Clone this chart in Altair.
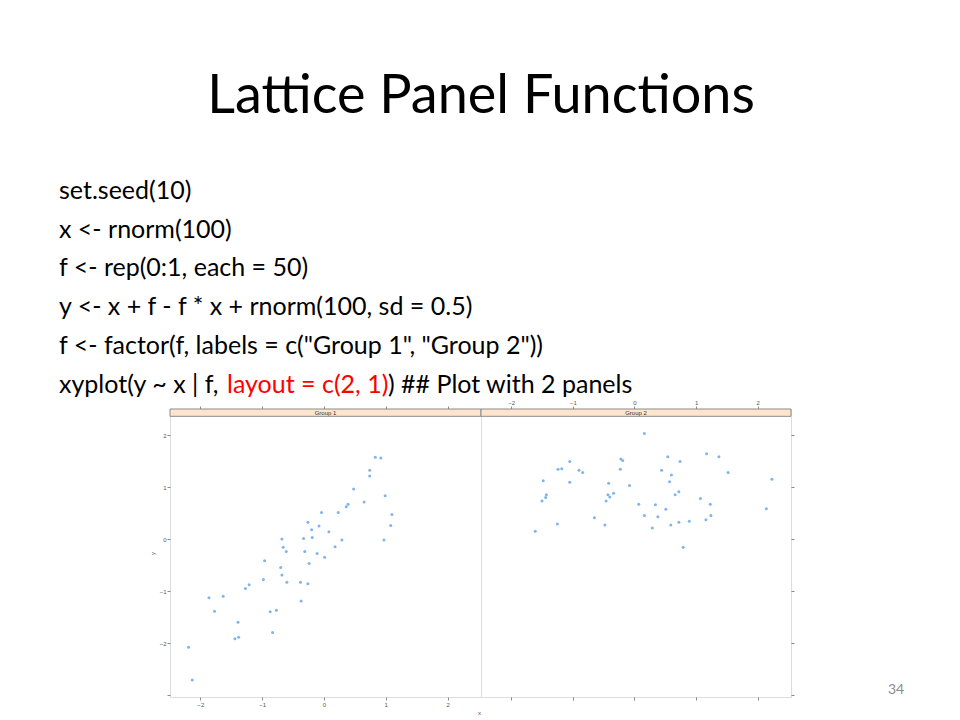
import altair as alt
import pandas as pd

# ---------------- data ----------------
title_text = "Lattice Panel Functions"
code_lines = [
    "set.seed(10)",
    "x <- rnorm(100)",
    "f <- rep(0:1, each = 50)",
    "y <- x + f - f * x + rnorm(100, sd = 0.5)",
    'f <- factor(f, labels = c("Group 1", "Group 2"))',
]
last_line_parts = ["xyplot(y ~ x | f,", "layout = c(2, 1)", ") ## Plot with 2 panels"]
page_number = "34"
panel_labels = ["Group 1", "Group 2"]
x_ticks = [-2, -1, 0, 1, 2]
y_ticks = [-3, -2, -1, 0, 1, 2]

g1_x = [0.83, 0.92, 0.74, 0.74, 0.48, 0.99, 0.65, 0.39, 0.36, -0.04,
        0.23, 1.10, -0.26, 1.08, -0.08, -0.20, 0.08, -0.19, -0.33, -0.68,
        0.29, 0.97, -0.66, 0.18, -0.61, -0.31, -0.11, 0.01, -0.96, -0.70,
        -0.24, -0.68, -0.98, -0.60, -0.38, -0.26, -1.21, -1.27, -1.63, -1.86,
        -0.37, -1.77, -0.87, -0.77, -1.39, -0.83, -1.38, -1.44, -2.19, -2.13]
g1_y = [1.57, 1.56, 1.32, 1.21, 0.96, 0.83, 0.71, 0.67, 0.62, 0.51,
        0.51, 0.47, 0.32, 0.26, 0.25, 0.18, 0.14, 0.03, 0.01, 0.00,
        -0.02, -0.02, -0.16, -0.15, -0.24, -0.24, -0.28, -0.35, -0.42, -0.55,
        -0.47, -0.69, -0.78, -0.83, -0.83, -0.86, -0.88, -0.95, -1.10, -1.13,
        -1.19, -1.39, -1.40, -1.37, -1.60, -1.80, -1.89, -1.92, -2.08, -2.71]

g2_x = [0.16, 1.17, 0.54, 1.37, -0.22, -0.19, -1.05, 0.74, -1.24, -1.18,
        -0.23, -0.90, -0.84, 0.44, 1.52, 0.60, 2.23, -1.48, -1.05, -0.42,
        0.57, -0.08, 0.72, -0.34, 0.66, -1.43, -0.43, -0.40, -1.44, 1.07,
        -1.50, -0.46, 0.07, 0.34, 1.23, 2.14, 0.51, 0.16, 0.38, 1.24,
        -0.65, 1.16, 0.89, 0.72, -1.25, -0.48, 0.59, 0.29, -1.61, 0.79]
g2_y = [2.03, 1.64, 1.58, 1.58, 1.54, 1.51, 1.49, 1.49, 1.34, 1.35,
        1.34, 1.32, 1.28, 1.32, 1.28, 1.23, 1.15, 1.12, 1.09, 1.07,
        1.10, 1.03, 0.91, 0.88, 0.85, 0.85, 0.85, 0.81, 0.80, 0.78,
        0.73, 0.73, 0.67, 0.66, 0.67, 0.58, 0.57, 0.45, 0.43, 0.45,
        0.41, 0.37, 0.34, 0.32, 0.29, 0.27, 0.27, 0.21, 0.15, -0.16]

# ---------------- styling ----------------
W_LEFT = 311
W_RIGHT = 310
H = 288
STRIP_H = 7.3
GRAY = "#8a8a8a"
PT = "#80b4ea"
TXT_FONT = "Lato"
AX_FONT = "Liberation Sans"

xs = alt.Scale(domain=[-2.49, 2.54], nice=False, zero=False)
ys = alt.Scale(domain=[-3.038, 2.5], nice=False, zero=False)


def ax(orient, labels=True, title=None, **kw):
    args = dict(orient=orient, values=x_ticks if orient in ("top", "bottom") else y_ticks,
                tickSize=3, tickColor=GRAY, domain=False, grid=False,
                labels=labels, labelFontSize=6, labelColor="#555", labelPadding=1,
                labelFont=AX_FONT, labelFlush=False, labelAngle=0)
    if title is not None:
        args.update(title=title, titleFontSize=6, titleFontWeight="normal",
                    titleColor="#555", titleFont=AX_FONT)
    else:
        args.update(title=None)
    args.update(kw)
    return alt.Axis(**args)


def panel(xv, yv, label, width, bottom_axis, top_axis, y_axis):
    df = pd.DataFrame({"x": xv, "y": yv})
    pts = alt.Chart(df).mark_circle(size=9, color=PT, opacity=1).encode(
        x=alt.X("x:Q", scale=xs, axis=bottom_axis),
        y=alt.Y("y:Q", scale=ys, axis=y_axis),
    )
    top = alt.Chart(df).mark_point(opacity=0, size=1).encode(
        x=alt.X("x:Q", scale=xs, axis=top_axis),
        y=alt.value(100),
    )
    sdf = pd.DataFrame({"label": [label]})
    strip = alt.Chart(sdf).mark_rect(fill="#ffe5cc", stroke=GRAY, strokeWidth=1).encode(
        x=alt.value(0), x2=alt.value(width), y=alt.value(0), y2=alt.value(STRIP_H)
    )
    strip_txt = alt.Chart(sdf).mark_text(fontSize=6, font=AX_FONT, color="#333",
                                         baseline="middle").encode(
        x=alt.value(width / 2), y=alt.value(STRIP_H / 2 + 0.3), text="label:N"
    )
    return [pts, top, strip, strip_txt]


# left panel
left_layers = panel(
    g1_x, g1_y, panel_labels[0], W_LEFT,
    ax("bottom", title="x", titleX=W_LEFT - 2, titleY=17, titleBaseline="alphabetic"),
    ax("top", labels=False),
    ax("left", title="y", labelExpr="datum.value == -3 ? '' : datum.label",
       titleX=-18, titleBaseline="middle"),
)

# page texts (positions relative to the left panel origin)
OX, OY = 169, 408
texts = []
texts.append(alt.Chart(pd.DataFrame({"t": [title_text]})).mark_text(
    font=TXT_FONT, fontSize=54, align="center", baseline="alphabetic", color="black").encode(
    x=alt.value(480 - OX), y=alt.value(112 - OY), text="t:N"))
LINE0 = 197.7
LSTEP = 38.8
CODE_SIZE = 25
for i, line in enumerate(code_lines):
    texts.append(alt.Chart(pd.DataFrame({"t": [line]})).mark_text(
        font=TXT_FONT, fontSize=CODE_SIZE, align="left", baseline="alphabetic", color="black").encode(
        x=alt.value(58 - OX), y=alt.value(LINE0 + i * LSTEP - OY), text="t:N"))
seg_x = [58, 226, 387]
seg_col = ["black", "#ff0000", "black"]
for part, sx, col in zip(last_line_parts, seg_x, seg_col):
    texts.append(alt.Chart(pd.DataFrame({"t": [part]})).mark_text(
        font=TXT_FONT, fontSize=CODE_SIZE, align="left", baseline="alphabetic", color=col).encode(
        x=alt.value(sx - OX), y=alt.value(LINE0 + 5 * LSTEP - OY), text="t:N"))
texts.append(alt.Chart(pd.DataFrame({"t": [page_number]})).mark_text(
    font=TXT_FONT, fontSize=14, align="center", baseline="alphabetic", color="#8c8c8c").encode(
    x=alt.value(895 - OX), y=alt.value(693 - OY), text="t:N"))
# invisible anchor at the page's top-left corner so the panel lands where it should
anchor = alt.Chart(pd.DataFrame({"a": [0]})).mark_rule(strokeOpacity=0, color="white").encode(
    x=alt.value(8 - OX), x2=alt.value(9 - OX), y=alt.value(8 - OY))

left = alt.layer(*left_layers, *texts, anchor).resolve_scale(x="independent").properties(
    width=W_LEFT, height=H)

right_layers = panel(
    g2_x, g2_y, panel_labels[1], W_RIGHT,
    ax("bottom", labels=False),
    ax("top"),
    ax("right", labels=False),
)
right = alt.layer(*right_layers).resolve_scale(x="independent").properties(
    width=W_RIGHT, height=H)

chart = alt.hconcat(left, right, spacing=0, bounds="flush").properties(
    padding=0
).configure_view(stroke=GRAY, strokeWidth=1).configure(background="white")

chart.save("out.html", embed_options={"renderer": "svg", "actions": False})
